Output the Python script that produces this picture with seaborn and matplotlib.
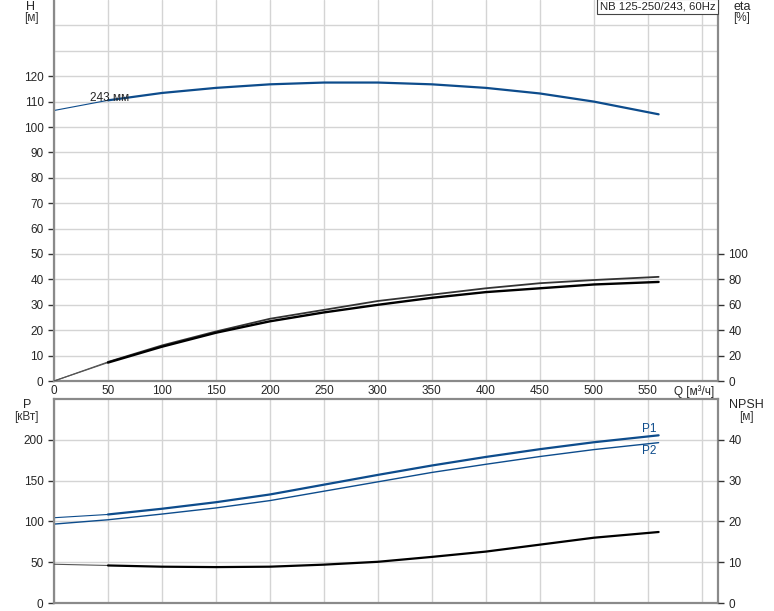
import numpy as np
import pandas as pd
import matplotlib
matplotlib.use('Agg')
import matplotlib.pyplot as plt
import seaborn as sns

# 數據
q = [0, 50, 100, 150, 200, 250, 300, 350, 400, 450, 500, 560]
h = [106.5, 110.5, 113.4, 115.4, 116.8, 117.5, 117.5, 116.8, 115.4, 113.2, 110.0, 105.0]
eta1 = [0, 15, 28, 39, 49, 56, 63, 68, 73, 77, 79.5, 82]
eta2 = [0, 14.5, 27, 38, 47, 54, 60, 65.5, 70, 73, 76, 78]
p1 = [104.5, 108.5, 115.5, 123.5, 133, 145, 157, 168.5, 179, 188.5, 197, 205.5]
p2 = [96.7, 102, 109, 116.5, 125.5, 137, 148.5, 160, 170, 179.5, 188, 196.5]
npsh = [9.5, 9.2, 8.9, 8.8, 8.9, 9.4, 10.1, 11.3, 12.6, 14.3, 16.0, 17.4]

q_ticks = list(range(0, 601, 50))
q_labels = [str(v) for v in q_ticks[:-1]] + ['']

sns.set_style('white')
plt.rcParams['font.family'] = ['Liberation Sans', 'DejaVu Sans']
plt.rcParams['font.size'] = 8.5

blue = '#0d4c8c'
grid_c = '#d4d4d4'
spine_c = '#8a8a8a'
fs = 8.5

fig = plt.figure(figsize=(7.74, 6.11), dpi=100)
ax_h = fig.add_axes([54/774, 1-381/611, 664/774, 381/611])
ax_p = fig.add_axes([54/774, 1-603/611, 664/774, 204/611])
ax_eta = ax_h.twinx()
ax_npsh = ax_p.twinx()

df = pd.DataFrame({'q': q, 'h': h, 'eta1': eta1, 'eta2': eta2, 'p1': p1, 'p2': p2, 'npsh': npsh})
d1 = df.iloc[1:]


def draw(ax, col, color, thin_c, lw=1.6):
    # 細線 0-50, 粗線 50-560
    sns.lineplot(data=df.iloc[:2], x='q', y=col, ax=ax, color=thin_c, lw=0.8)
    sns.lineplot(data=d1, x='q', y=col, ax=ax, color=color, lw=lw)


draw(ax_h, 'h', blue, blue)
draw(ax_eta, 'eta1', '#333333', '#555555', lw=1.3)
draw(ax_eta, 'eta2', 'black', '#555555', lw=1.7)
draw(ax_p, 'p1', blue, blue)
sns.lineplot(data=df, x='q', y='p2', ax=ax_p, color=blue, lw=1.0)
draw(ax_npsh, 'npsh', 'black', '#555555')

for ax in [ax_h, ax_p]:
    ax.set_xlim(0, 615)
    ax.set_xticks(q_ticks)
    ax.grid(True, which='both', color=grid_c, lw=1)
    ax.set_axisbelow(True)
    ax.set_xlabel('')
    ax.set_ylabel('')
    for s in ['left', 'right', 'bottom', 'top']:
        ax.spines[s].set_color(spine_c)
        ax.spines[s].set_linewidth(1.6)

ax_h.spines['top'].set_visible(False)
ax_h.set_ylim(0, 150)
ax_h.set_yticks(range(0, 121, 10))
ax_h.set_yticks([130, 140], minor=True)
ax_h.tick_params(axis='y', which='minor', length=0)
ax_h.set_xticklabels(q_labels)
ax_h.tick_params(axis='x', length=0, pad=3, labelsize=fs)
ax_h.tick_params(axis='y', length=4, width=1, color='#333333', direction='out', labelsize=fs)

ax_eta.set_ylim(0, 300)
ax_eta.set_yticks(range(0, 101, 20))
ax_eta.tick_params(axis='y', length=4, width=1, color='#333333', direction='out', labelsize=fs)
ax_eta.set_ylabel('')

ax_p.set_ylim(0, 250)
ax_p.set_yticks(range(0, 201, 50))
ax_p.set_xticklabels([])
ax_p.tick_params(axis='x', length=0)
ax_p.tick_params(axis='y', length=4, width=1, color='#333333', direction='out', labelsize=fs)

ax_npsh.set_ylim(0, 50)
ax_npsh.set_yticks(range(0, 41, 10))
ax_npsh.tick_params(axis='y', length=4, width=1, color='#333333', direction='out', labelsize=fs)
ax_npsh.set_ylabel('')

for ax in [ax_eta, ax_npsh]:
    for s in ax.spines.values():
        s.set_visible(False)

# 標籤
ax_h.text(33, 111.3, '243 мм', fontsize=fs, ha='left', va='center')
ax_p.text(551, 213, 'P1', fontsize=fs, color=blue, ha='center', va='center')
ax_p.text(551, 186, 'P2', fontsize=fs, color=blue, ha='center', va='center')
ax_h.text(0.996, 0.996, 'NB 125-250/243, 60Hz', transform=ax_h.transAxes, fontsize=8.2,
          ha='right', va='top',
          bbox=dict(facecolor='white', edgecolor='#444444', boxstyle='square,pad=0.2', lw=0.8))

fig.text(31/774, 1-6.5/611, 'H', ha='center', va='center', fontsize=9)
fig.text(31/774, 1-18/611, '[м]', ha='center', va='center', fontsize=fs, color='#333333')
fig.text(742/774, 1-6.5/611, 'eta', ha='center', va='center', fontsize=9)
fig.text(742/774, 1-18/611, '[%]', ha='center', va='center', fontsize=fs, color='#333333')
fig.text(27/774, 1-405/611, 'P', ha='center', va='center', fontsize=9)
fig.text(26/774, 1-417/611, '[кВт]', ha='center', va='center', fontsize=fs, color='#333333')
fig.text(746/774, 1-405/611, 'NPSH', ha='center', va='center', fontsize=9)
fig.text(746/774, 1-417/611, '[м]', ha='center', va='center', fontsize=fs, color='#333333')
fig.text(694/774, 1-392/611, 'Q [м³/ч]', ha='center', va='center', fontsize=fs)

fig.savefig('out.png', dpi=100)
